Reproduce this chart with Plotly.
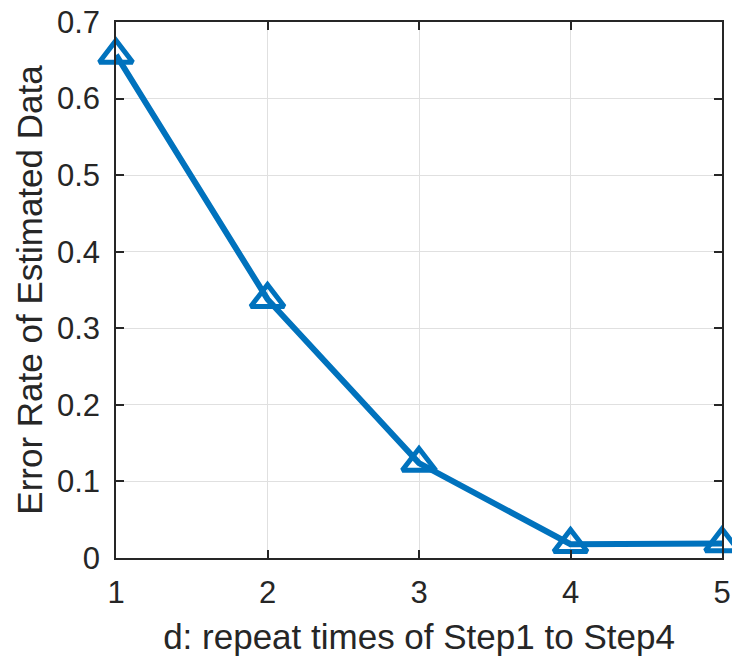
import plotly.graph_objects as go

d_values = [1, 2, 3, 4, 5]
error_rate = [0.657, 0.338, 0.124, 0.018, 0.019]

y_ticks = [0, 0.1, 0.2, 0.3, 0.4, 0.5, 0.6, 0.7]
y_tick_labels = ["0", "0.1", "0.2", "0.3", "0.4", "0.5", "0.6", "0.7"]

x_title = "d: repeat times of Step1 to Step4"
y_title = "Error Rate of Estimated Data"

axis_color = "#262626"
line_color = "#0072BD"
font_family = "Liberation Sans, Arial, Helvetica, sans-serif"

fig = go.Figure()
fig.add_trace(go.Scatter(
    x=d_values, y=error_rate,
    mode="lines+markers",
    line=dict(color=line_color, width=6),
    marker=dict(symbol="triangle-up-open", size=29, color=line_color,
                line=dict(color=line_color, width=5)),
    cliponaxis=False,
    showlegend=False,
))

common = dict(
    showline=True, linecolor=axis_color, linewidth=1.5, mirror="ticks",
    ticks="inside", ticklen=8, tickwidth=1.5, tickcolor=axis_color,
    showgrid=True, gridcolor="#e0e0e0", gridwidth=1,
    zeroline=False, automargin=False,
    tickfont=dict(family=font_family, size=31, color=axis_color),
)

fig.update_xaxes(range=[1, 5], tickvals=d_values, ticktext=[str(v) for v in d_values],
                 title=dict(text=x_title, font=dict(family=font_family, size=35, color=axis_color), standoff=16),
                 ticklabelstandoff=6, **common)
fig.update_yaxes(range=[0, 0.7], tickvals=y_ticks, ticktext=y_tick_labels,
                 title=dict(text=y_title, font=dict(family=font_family, size=35, color=axis_color), standoff=4),
                 ticklabelstandoff=8, **common)

fig.update_layout(
    width=732, height=660,
    margin=dict(l=116, r=10, t=22, b=102),
    plot_bgcolor="white", paper_bgcolor="white",
    font=dict(family=font_family, color=axis_color),
)

fig.write_html("out.html", config={"displayModeBar": False},
               post_script="document.body.style.margin='0';")
